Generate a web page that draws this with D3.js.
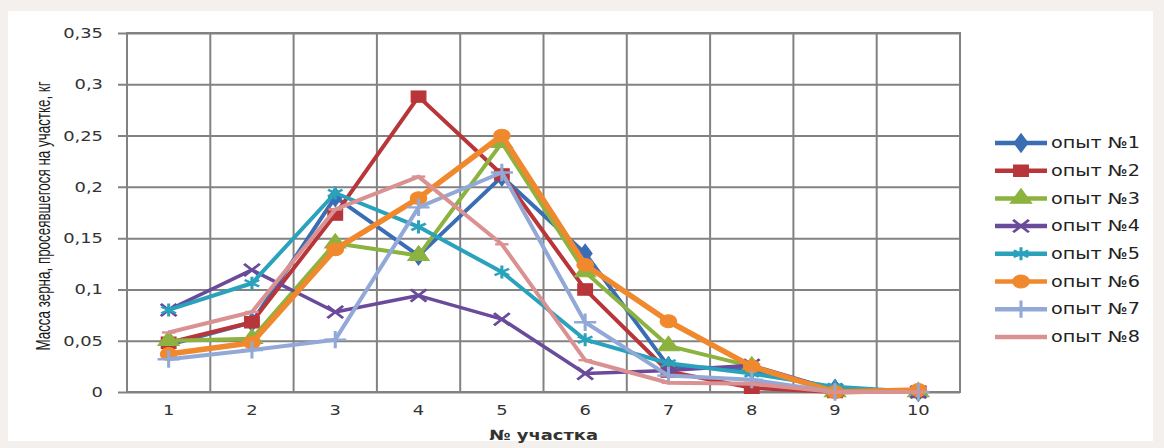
<!DOCTYPE html>
<html>
<head>
<meta charset="utf-8">
<script src="https://cdn.jsdelivr.net/npm/d3@7"></script>
<style>
    body { margin: 0; background: #f3f0ed; }
    svg { display: block; }
</style>
</head>
<body>
<div id="chart"></div>
<script>

// data
const sections = [1, 2, 3, 4, 5, 6, 7, 8, 9, 10];
const seriesNames = ["опыт №1", "опыт №2", "опыт №3", "опыт №4", "опыт №5", "опыт №6", "опыт №7", "опыт №8"];
const exp1 = [0.046, 0.068, 0.190, 0.133, 0.210, 0.135, 0.025, 0.022, 0.003, 0.000];
const exp2 = [0.048, 0.068, 0.173, 0.288, 0.212, 0.100, 0.020, 0.004, 0.000, 0.000];
const exp3 = [0.050, 0.052, 0.145, 0.133, 0.243, 0.117, 0.045, 0.025, 0.000, 0.000];
const exp4 = [0.080, 0.119, 0.078, 0.094, 0.071, 0.018, 0.021, 0.026, 0.002, 0.000];
const exp5 = [0.080, 0.106, 0.194, 0.161, 0.117, 0.051, 0.028, 0.018, 0.005, 0.000];
const exp6 = [0.037, 0.048, 0.139, 0.189, 0.250, 0.124, 0.069, 0.025, 0.000, 0.002];
const exp7 = [0.032, 0.041, 0.051, 0.180, 0.214, 0.068, 0.016, 0.012, 0.000, 0.000];
const exp8 = [0.058, 0.078, 0.178, 0.210, 0.144, 0.031, 0.009, 0.008, 0.000, 0.000];
const yTicks = [0, 0.05, 0.1, 0.15, 0.2, 0.25, 0.3, 0.35];

// styles
const colors = ["#3a6db4", "#b8353a", "#8cb23f", "#6a4a9a", "#2aa2bc", "#f0892e", "#92a9d8", "#d99291"];
const widths = [4, 4, 4, 3.5, 4, 5.5, 4, 4];

// short dash marker for series 8
const symbolDash = {
    draw(context, size) {
        let r = Math.sqrt(size) / 2;
        context.moveTo(-r, 0);
        context.lineTo(r, 0);
    }
};
const symbols = [
    {type: d3.symbolDiamond, size: 100, fill: true},
    {type: d3.symbolSquare, size: 130, fill: true},
    {type: d3.symbolTriangle, size: 120, fill: true},
    {type: d3.symbolTimes, size: 100, fill: false},
    {type: d3.symbolAsterisk, size: 120, fill: false},
    {type: d3.symbolCircle, size: 130, fill: true},
    {type: d3.symbolPlus, size: 100, fill: false},
    {type: symbolDash, size: 110, fill: false}
];

const allValues = [exp1, exp2, exp3, exp4, exp5, exp6, exp7, exp8];
const seriesList = seriesNames.map((name, i) => ({
    name: name,
    values: allValues[i].map((v, j) => ({section: sections[j], value: v})),
    color: colors[i],
    width: widths[i],
    symbol: symbols[i]
}));

const stretch = 1.28;   // the original picture is stretched horizontally

const svg = d3.select("#chart").append("svg")
    .attr("width", 1164)
    .attr("height", 448);

// paper background
svg.append("rect")
    .attr("x", 8).attr("y", 11)
    .attr("width", 1145).attr("height", 430)
    .attr("fill", "#ffffff");

let plot = {left: 127, right: 960, top: 33, bottom: 392};

let x = d3.scaleBand()
    .domain(sections)
    .range([plot.left, plot.right]);

let y = d3.scaleLinear()
    .domain([0, 0.35])
    .range([plot.bottom, plot.top]);

let fmt = d3.formatLocale({decimal: ",", thousands: " ", grouping: [3], currency: ["", ""]}).format("~r");

// vertical grid
svg.append("g")
    .selectAll("line")
    .data(sections.slice(1))
    .enter().append("line")
    .attr("x1", d => x(d)).attr("x2", d => x(d))
    .attr("y1", plot.top).attr("y2", plot.bottom)
    .attr("stroke", "#828282")
    .attr("stroke-width", 2);

// y axis with horizontal grid
let yAxis = d3.axisLeft(y)
    .tickValues(yTicks)
    .tickSize(plot.right - plot.left + 9)
    .tickPadding(0)
    .tickFormat(d => fmt(d));

let yG = svg.append("g")
    .attr("transform", `translate(${plot.right},0)`)
    .call(yAxis);
yG.select(".domain").remove();
yG.selectAll(".tick line")
    .attr("stroke", "#828282")
    .attr("stroke-width", 2);
yG.selectAll(".tick text")
    .attr("x", 0)
    .attr("transform", `translate(${-(plot.right - plot.left + 24)},0) scale(${stretch},1)`)
    .style("font-family", "'DejaVu Sans', Verdana, sans-serif")
    .style("font-size", "14px")
    .attr("fill", "#333");

// plot border
svg.append("rect")
    .attr("x", plot.left).attr("y", plot.top)
    .attr("width", plot.right - plot.left).attr("height", plot.bottom - plot.top)
    .attr("fill", "none")
    .attr("stroke", "#828282")
    .attr("stroke-width", 2);

// x axis labels
let xAxis = d3.axisBottom(x).tickSize(0).tickPadding(13);
let xG = svg.append("g")
    .attr("transform", `translate(0,${plot.bottom})`)
    .call(xAxis);
xG.select(".domain").remove();
xG.selectAll(".tick text")
    .attr("transform", `scale(${stretch},1)`)
    .attr("x", 0)
    .style("font-family", "'DejaVu Sans', Verdana, sans-serif")
    .style("font-size", "14px")
    .attr("fill", "#333");

// axis titles
svg.append("text")
    .attr("transform", `translate(${(plot.left + plot.right) / 2},440) scale(${stretch},1)`)
    .attr("text-anchor", "middle")
    .style("font-family", "'DejaVu Sans', Verdana, sans-serif")
    .style("font-size", "14px")
    .style("font-weight", "bold")
    .attr("fill", "#333")
    .text("№ участка");

svg.append("text")
    .attr("transform", `translate(50,216) rotate(-90) scale(1,1.55)`)
    .attr("text-anchor", "middle")
    .style("font-family", "'Liberation Sans Narrow', 'Liberation Sans', sans-serif")
    .style("font-size", "13.4px")
    .attr("fill", "#1a1a1a")
    .text("Масса зерна, просеявшегося на участке, кг");

// lines
let cx = d => x(d.section) + x.bandwidth() / 2;
let line = d3.line()
    .x(cx)
    .y(d => y(d.value));

let seriesG = svg.selectAll(".series")
    .data(seriesList)
    .enter().append("g")
    .attr("class", "series");

seriesG.append("path")
    .attr("d", d => line(d.values))
    .attr("fill", "none")
    .attr("stroke", d => d.color)
    .attr("stroke-width", d => d.width)
    .attr("stroke-linejoin", "round");

seriesG.each(function (s) {
    let sym = d3.symbol().type(s.symbol.type).size(s.symbol.size);
    d3.select(this).selectAll(".marker")
        .data(s.values)
        .enter().append("path")
        .attr("class", "marker")
        .attr("transform", d => `translate(${cx(d)},${y(d.value)}) scale(${stretch},1)`)
        .attr("d", sym())
        .attr("fill", s.symbol.fill ? s.color : "none")
        .attr("stroke", s.color)
        .attr("stroke-width", s.symbol.fill ? 1 : 2.4);
});

// legend
let legend = svg.append("g")
    .selectAll("g")
    .data(seriesList)
    .enter().append("g")
    .attr("transform", (d, i) => `translate(995,${143 + i * 27.7})`);

legend.append("line")
    .attr("x1", 0).attr("x2", 52)
    .attr("stroke", d => d.color)
    .attr("stroke-width", 4.5);

legend.filter((d, i) => i < 7).append("path")
    .attr("transform", `translate(26,0) scale(${stretch},1)`)
    .attr("d", d => d3.symbol().type(d.symbol.type).size(d.symbol.size)())
    .attr("fill", d => d.symbol.fill ? d.color : "none")
    .attr("stroke", d => d.color)
    .attr("stroke-width", d => d.symbol.fill ? 1 : 2.4);

legend.append("text")
    .attr("transform", `translate(56,0) scale(${stretch},1)`)
    .attr("dy", "0.35em")
    .style("font-family", "'DejaVu Sans', Verdana, sans-serif")
    .style("font-size", "15px")
    .attr("fill", "#222")
    .text(d => d.name);

</script>
</body>
</html>
